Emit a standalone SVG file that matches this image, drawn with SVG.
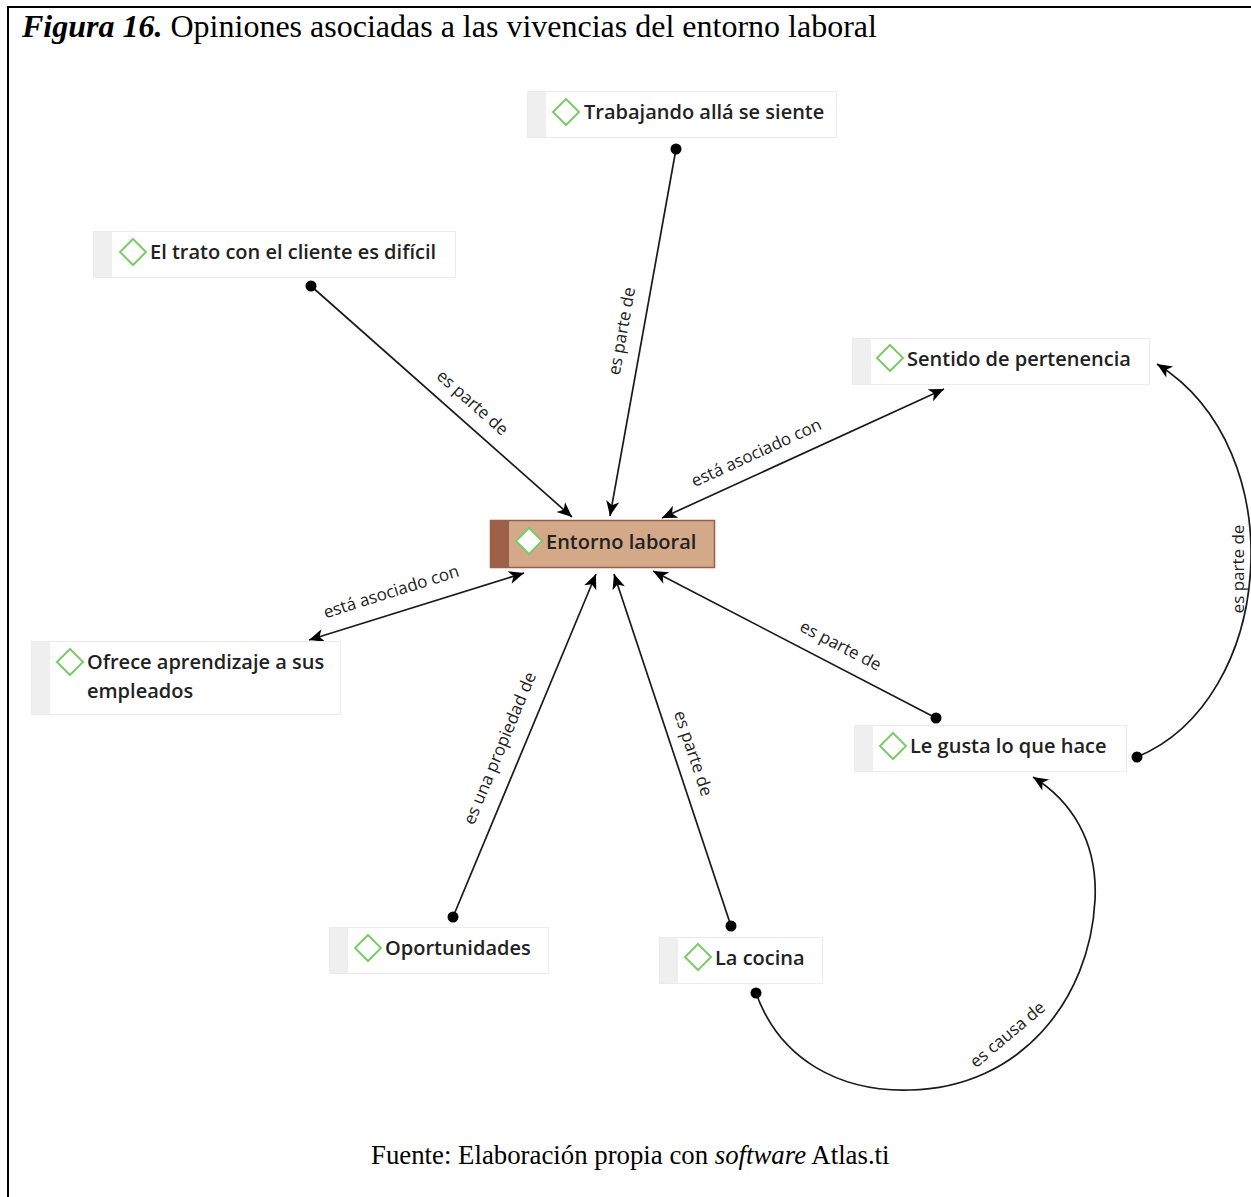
<svg xmlns="http://www.w3.org/2000/svg" width="1251" height="1197" viewBox="0 0 1251 1197">
  <defs>
    <style>
      .frame { fill: none; stroke: #000; stroke-width: 2; }
      .title { font-family: "Liberation Serif", "Times New Roman", serif; font-size: 32px; fill: #000; }
      .caption { font-family: "Liberation Serif", "Times New Roman", serif; font-size: 26.8px; fill: #000; }
      .box { fill: #fff; stroke: #ebebeb; stroke-width: 1; }
      .strip { fill: #efefef; }
      .icon { fill: #fff; stroke: #7ccb6a; stroke-width: 2; }
      .ntext { font-family: "Open Sans", "Noto Sans", sans-serif; font-size: 20px; font-weight: 600; fill: #222; }
      .link { fill: none; stroke: #1a1a1a; stroke-width: 1.7; }
      .dot { fill: #000; }
      .lbl { font-family: "Open Sans", "Noto Sans", sans-serif; font-size: 17px; fill: #222; }
    </style>
    <marker id="arr" viewBox="-16 -8 18 16" refX="0" refY="0" markerWidth="18" markerHeight="16" markerUnits="userSpaceOnUse" orient="auto-start-reverse">
      <path d="M0,0 L-15,-6.5 L-11,0 L-15,6.5 Z" fill="#000"/>
    </marker>
  </defs>

  <rect width="1251" height="1197" fill="#fff"/>
  <path class="frame" d="M8,1197 V7 H1251"/>

  <text class="title" x="22" y="37"><tspan font-weight="bold" font-style="italic">Figura 16.</tspan> Opiniones asociadas a las vivencias del entorno laboral</text>

  <!-- connectors -->
  <g id="connectors">
    <line class="link" x1="676" y1="149" x2="610" y2="516" marker-end="url(#arr)"/>
    <line class="link" x1="311" y1="286" x2="572" y2="517" marker-end="url(#arr)"/>
    <line class="link" x1="662" y1="518" x2="944" y2="389" marker-start="url(#arr)" marker-end="url(#arr)"/>
    <line class="link" x1="524" y1="573" x2="309" y2="640" marker-start="url(#arr)" marker-end="url(#arr)"/>
    <line class="link" x1="936" y1="718" x2="653" y2="571" marker-end="url(#arr)"/>
    <line class="link" x1="453" y1="917" x2="596" y2="574" marker-end="url(#arr)"/>
    <line class="link" x1="731" y1="926" x2="614" y2="574" marker-end="url(#arr)"/>
    <path class="link" d="M1137,757 C1275,700 1295,450 1157,364" marker-end="url(#arr)"/>
    <path class="link" d="M756,993 C780,1060 840,1092 910,1090 C1020,1088 1090,1000 1095,900 C1098,840 1070,800 1033,777" marker-end="url(#arr)"/>

    <circle class="dot" cx="676" cy="149" r="5.5"/>
    <circle class="dot" cx="311" cy="286" r="5.5"/>
    <circle class="dot" cx="936" cy="718" r="5.5"/>
    <circle class="dot" cx="453" cy="917" r="5.5"/>
    <circle class="dot" cx="731" cy="926" r="5.5"/>
    <circle class="dot" cx="1137" cy="757" r="5.5"/>
    <circle class="dot" cx="756" cy="993" r="5.5"/>

    <text class="lbl" text-anchor="middle" dominant-baseline="central" transform="translate(621,331) rotate(-79.8)">es parte de</text>
    <text class="lbl" text-anchor="middle" dominant-baseline="central" transform="translate(473,402) rotate(41.5)">es parte de</text>
    <text class="lbl" text-anchor="middle" dominant-baseline="central" transform="translate(756,452) rotate(-24.6)">está asociado con</text>
    <text class="lbl" text-anchor="middle" dominant-baseline="central" transform="translate(391,591) rotate(-17.5)">está asociado con</text>
    <text class="lbl" text-anchor="middle" dominant-baseline="central" transform="translate(841,645) rotate(27.4)">es parte de</text>
    <text class="lbl" text-anchor="middle" dominant-baseline="central" transform="translate(499,748) rotate(-67.4)">es una propiedad de</text>
    <text class="lbl" text-anchor="middle" dominant-baseline="central" transform="translate(694,753) rotate(71.6)">es parte de</text>
    <text class="lbl" text-anchor="middle" dominant-baseline="central" transform="translate(1237,569) rotate(-90)">es parte de</text>
    <text class="lbl" text-anchor="middle" dominant-baseline="central" transform="translate(1007,1034) rotate(-40)">es causa de</text>
  </g>

  <!-- nodes -->
  <g id="n-trabajando">
    <rect class="box" x="527.5" y="91.5" width="309" height="46"/>
    <rect class="strip" x="528" y="92" width="18" height="45"/>
    <path class="icon" d="M566,99 L579,112 L566,125 L553,112 Z"/>
    <text class="ntext" x="584" y="119">Trabajando allá se siente</text>
  </g>

  <g id="n-trato">
    <rect class="box" x="93.5" y="231.5" width="362" height="46"/>
    <rect class="strip" x="94" y="232" width="18" height="45"/>
    <path class="icon" d="M133,239 L146,252 L133,265 L120,252 Z"/>
    <text class="ntext" x="150" y="259">El trato con el cliente es difícil</text>
  </g>

  <g id="n-sentido">
    <rect class="box" x="852.5" y="338.5" width="297" height="46"/>
    <rect class="strip" x="853" y="339" width="18" height="45"/>
    <path class="icon" d="M890,345 L903,358 L890,371 L877,358 Z"/>
    <text class="ntext" x="907" y="366">Sentido de pertenencia</text>
  </g>

  <g id="n-entorno">
    <rect x="490.5" y="520.5" width="224" height="47" fill="#d3a989" stroke="#9b5e47" stroke-width="1.5"/>
    <rect x="491" y="521" width="18" height="46" fill="#9c5f48"/>
    <path class="icon" d="M529,528 L542,541 L529,554 L516,541 Z"/>
    <text class="ntext" x="546" y="549">Entorno laboral</text>
  </g>

  <g id="n-ofrece">
    <rect class="box" x="31.5" y="641.5" width="309" height="73"/>
    <rect class="strip" x="32" y="642" width="18" height="72"/>
    <path class="icon" d="M70,649 L83,662 L70,675 L57,662 Z"/>
    <text class="ntext" x="87" y="669">Ofrece aprendizaje a sus</text>
    <text class="ntext" x="87" y="698">empleados</text>
  </g>

  <g id="n-legusta">
    <rect class="box" x="854.5" y="725.5" width="272" height="46"/>
    <rect class="strip" x="855" y="726" width="18" height="45"/>
    <path class="icon" d="M893,733 L906,746 L893,759 L880,746 Z"/>
    <text class="ntext" x="910" y="753">Le gusta lo que hace</text>
  </g>

  <g id="n-oportunidades">
    <rect class="box" x="329.5" y="927.5" width="219" height="46"/>
    <rect class="strip" x="330" y="928" width="18" height="45"/>
    <path class="icon" d="M368,935 L381,948 L368,961 L355,948 Z"/>
    <text class="ntext" x="385" y="955">Oportunidades</text>
  </g>

  <g id="n-cocina">
    <rect class="box" x="659.5" y="937.5" width="163" height="46"/>
    <rect class="strip" x="660" y="938" width="18" height="45"/>
    <path class="icon" d="M698,944 L711,957 L698,970 L685,957 Z"/>
    <text class="ntext" x="715" y="965">La cocina</text>
  </g>

  <text class="caption" x="371" y="1164">Fuente: Elaboración propia con <tspan font-style="italic">software</tspan> Atlas.ti</text>
</svg>
